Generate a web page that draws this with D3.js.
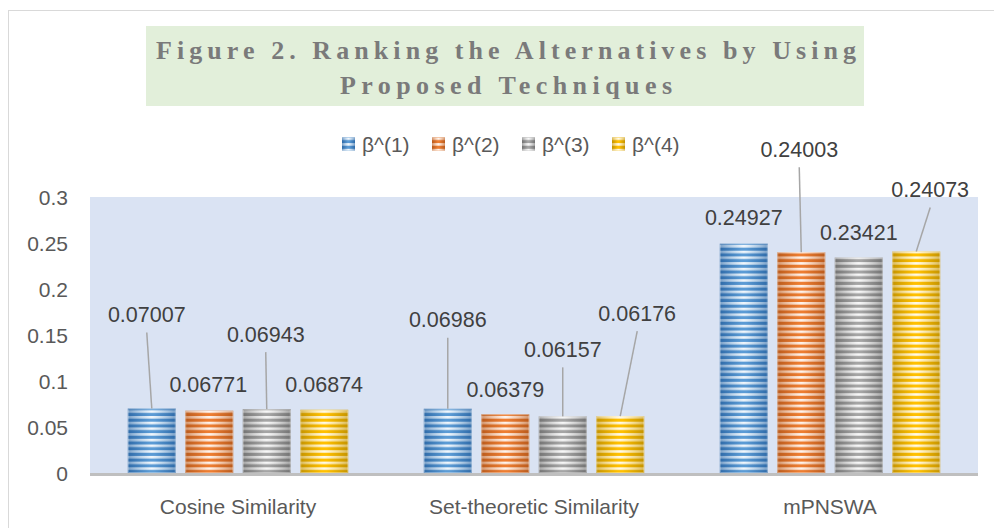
<!DOCTYPE html>
<html>
<head>
<meta charset="utf-8">
<script src="https://cdn.jsdelivr.net/npm/d3@7"></script>
<style>
  html, body { margin: 0; padding: 0; background: #ffffff; }
  svg { display: block; }
</style>
</head>
<body>
<svg id="chart" width="994" height="528"></svg>
<script>
// ---- data ----
const categories = ["Cosine Similarity", "Set-theoretic Similarity", "mPNSWA"];
const seriesNames = ["β^(1)", "β^(2)", "β^(3)", "β^(4)"];
const beta1 = [0.07007, 0.06986, 0.24927];
const beta2 = [0.06771, 0.06379, 0.24003];
const beta3 = [0.06943, 0.06157, 0.23421];
const beta4 = [0.06874, 0.06176, 0.24073];
const yTicks = [0, 0.05, 0.1, 0.15, 0.2, 0.25, 0.3];
const titleLines = ["Figure 2. Ranking the Alternatives by Using", "Proposed Techniques"];

// label placement offsets (pixels from bar top-centre), per category, per series
const labelOffsets = [
  [[-5, -94], [-1, -26], [-1, -75], [0, -25]],
  [[0, -89], [0, -25], [0, -67], [17, -103]],
  [[0, -26], [-2, -103], [0, -25.5], [14, -62]]
];

const colors = ["#5b9bd5", "#ed7d31", "#a5a5a5", "#ffc000"];
const darkColors = ["#2e6aa8", "#b95a1c", "#737373", "#c49300"];

const seriesValues = [beta1, beta2, beta3, beta4];

const svg = d3.select("#chart");
const W = 994, H = 528;
const plot = { left: 90, right: 978, top: 197, bottom: 473 };
const font = "'Liberation Sans', Arial, sans-serif";
const textColor = "#595959";

// outer chart border
svg.append("rect").attr("x", 8.5).attr("y", 10.5).attr("width", 1000).attr("height", 540)
  .attr("fill", "#ffffff").attr("stroke", "#d9d9d9").attr("stroke-width", 1);

// defs: gradients & stripe patterns
const defs = svg.append("defs");
colors.forEach((c, i) => {
  const g = defs.append("linearGradient").attr("id", "grad" + i)
    .attr("x1", "0").attr("x2", "1").attr("y1", "0").attr("y2", "0");
  g.append("stop").attr("offset", "0%").attr("stop-color", darkColors[i]);
  g.append("stop").attr("offset", "45%").attr("stop-color", c);
  g.append("stop").attr("offset", "55%").attr("stop-color", c);
  g.append("stop").attr("offset", "100%").attr("stop-color", darkColors[i]);
});
const wg = defs.append("linearGradient").attr("id", "whiteGrad")
  .attr("x1", "0").attr("x2", "1").attr("y1", "0").attr("y2", "0");
wg.append("stop").attr("offset", "0%").attr("stop-color", "#ffffff").attr("stop-opacity", 0.35);
wg.append("stop").attr("offset", "50%").attr("stop-color", "#ffffff").attr("stop-opacity", 0.92);
wg.append("stop").attr("offset", "100%").attr("stop-color", "#ffffff").attr("stop-opacity", 0.35);

const pat = defs.append("pattern").attr("id", "stripes")
  .attr("patternUnits", "userSpaceOnUse").attr("x", 0).attr("y", plot.bottom)
  .attr("width", 4).attr("height", 5.7);
pat.append("rect").attr("x", 0).attr("y", 0).attr("width", 4).attr("height", 2.6).attr("fill", "#ffffff");
const mask = defs.append("mask").attr("id", "stripeMask").attr("maskContentUnits", "userSpaceOnUse");
mask.append("rect").attr("x", 0).attr("y", 0).attr("width", W).attr("height", H).attr("fill", "url(#stripes)");

// title box
svg.append("rect").attr("x", 146).attr("y", 26).attr("width", 718).attr("height", 80).attr("fill", "#e2efda");
const titleSpecs = [{ y: 58.5, len: 700 }, { y: 94, len: 332 }];
titleLines.forEach((t, i) => {
  svg.append("text")
    .attr("x", 506).attr("y", titleSpecs[i].y)
    .attr("text-anchor", "middle")
    .attr("textLength", titleSpecs[i].len).attr("lengthAdjust", "spacing")
    .attr("font-family", "'Liberation Serif', 'DejaVu Serif', serif")
    .attr("font-weight", "bold").attr("font-size", 26).attr("fill", "#7a7a7a")
    .text(t);
});

// plot area background
svg.append("rect").attr("x", plot.left).attr("y", plot.top)
  .attr("width", plot.right - plot.left).attr("height", plot.bottom - plot.top).attr("fill", "#dae3f3");

// scales
const x0 = d3.scaleBand().domain(categories).range([plot.left, plot.right]).padding(0);
const x1 = d3.scaleBand().domain(d3.range(seriesNames.length)).range([0, x0.bandwidth()])
  .paddingInner(0.165).paddingOuter(0.657);
const y = d3.scaleLinear().domain([0, 0.3]).range([plot.bottom, plot.top]);

// y axis (labels only)
const yAxis = d3.axisLeft(y).tickValues(yTicks).tickFormat(d => d3.format("")(+d.toFixed(2))).tickSize(0).tickPadding(0);
const yg = svg.append("g").attr("transform", `translate(68,0)`).call(yAxis);
yg.select(".domain").remove();
yg.selectAll("text").attr("font-family", font).attr("font-size", 21).attr("fill", textColor).attr("dy", "0.36em");

// bars
const barData = [];
categories.forEach((cat, ci) => {
  seriesValues.forEach((vals, si) => {
    barData.push({ cat, ci, si, v: vals[ci] });
  });
});

const bars = svg.append("g");
barData.forEach(d => {
  const bx = x0(d.cat) + x1(d.si);
  const by = y(d.v);
  const bw = x1.bandwidth();
  const bh = y(0) - y(d.v);
  const g = bars.append("g");
  g.append("rect").attr("x", bx).attr("y", by).attr("width", bw).attr("height", bh)
    .attr("fill", `url(#grad${d.si})`);
  g.append("rect").attr("x", bx).attr("y", by).attr("width", bw).attr("height", bh)
    .attr("fill", "url(#whiteGrad)").attr("mask", "url(#stripeMask)");
  g.append("rect").attr("x", bx + 0.5).attr("y", by + 0.5).attr("width", bw - 1).attr("height", bh - 1)
    .attr("fill", "none").attr("stroke", "#ffffff").attr("stroke-opacity", 0.35).attr("stroke-width", 1);
});

// x axis line
svg.append("line").attr("x1", plot.left).attr("x2", plot.right)
  .attr("y1", plot.bottom + 1.5).attr("y2", plot.bottom + 1.5)
  .attr("stroke", "#bfbfbf").attr("stroke-width", 3);

// x axis labels
const xAxis = d3.axisBottom(x0).tickSize(0).tickPadding(0);
const xg = svg.append("g").attr("transform", `translate(0,${plot.bottom + 33})`).call(xAxis);
xg.select(".domain").remove();
xg.selectAll("text").attr("font-family", font).attr("font-size", 21).attr("fill", textColor).attr("dy", "0.36em");

// data labels + leader lines
const labels = svg.append("g");
barData.forEach(d => {
  const cx = x0(d.cat) + x1(d.si) + x1.bandwidth() / 2;
  const top = y(d.v);
  const [dx, dy] = labelOffsets[d.ci][d.si];
  const lx = cx + dx, ly = top + dy;
  if (dy < -40) {
    labels.append("line").attr("x1", lx).attr("y1", ly + 18).attr("x2", cx).attr("y2", top)
      .attr("stroke", "#a6a6a6").attr("stroke-width", 1.5);
  }
  labels.append("text").attr("x", lx).attr("y", ly).attr("dy", "0.36em")
    .attr("text-anchor", "middle").attr("font-family", font).attr("font-size", 21.5)
    .attr("fill", "#404040").text(d.v.toFixed(5));
});

// legend
const legendX = [342, 432, 522, 612];
const legend = svg.append("g");
seriesNames.forEach((s, i) => {
  const lg = legend.append("g").attr("transform", `translate(${legendX[i]},137.5)`);
  lg.append("rect").attr("x", 0).attr("y", 0).attr("width", 13).attr("height", 13).attr("fill", `url(#grad${i})`);
  lg.append("rect").attr("x", 0).attr("y", 0).attr("width", 13).attr("height", 13)
    .attr("fill", "url(#whiteGrad)").attr("mask", "url(#stripeMask)");
  lg.append("text").attr("x", 20).attr("y", 6.5).attr("dy", "0.36em")
    .attr("font-family", font).attr("font-size", 21).attr("fill", textColor).text(s);
});
</script>
</body>
</html>
